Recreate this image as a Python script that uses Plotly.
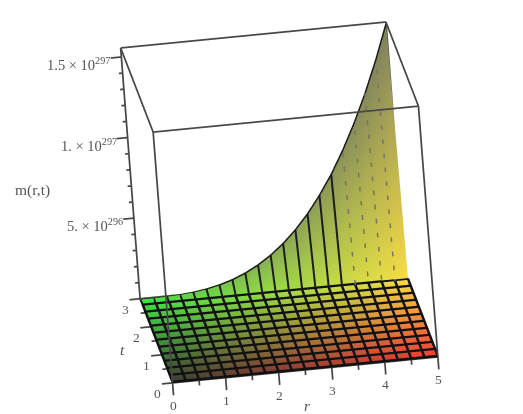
import plotly.graph_objects as go

# grid of the surface
r_vals = [0, 0.25, 0.5, 0.75, 1, 1.25, 1.5, 1.75, 2, 2.25, 2.5, 2.75, 3, 3.25, 3.5, 3.75, 4, 4.25, 4.5, 4.75, 5]
t_vals = [0, 0.25, 0.5, 0.75, 1, 1.25, 1.5, 1.75, 2, 2.25, 2.5, 2.75, 3]

# m(r,t) in units of 1e296 (webgl can't hold 1e297); flat until the last row
m_flat = [0] * 21
m_last = [0, 0.02, 0.16, 0.52, 1.24, 2.43, 4.2, 6.67, 9.96, 14.2, 19.45, 25.9, 33.6, 42.7, 53.4, 65.6, 79.7, 95.6, 113.4, 133.4, 155.6]
m_top = 155.6

r_ticks = [0, 1, 2, 3, 4, 5]
r_minor = [0.5, 1.5, 2.5, 3.5, 4.5]
t_ticks = [0, 1, 2, 3]
t_minor = [0.5, 1.5, 2.5]
m_ticks = [50, 100, 150]
m_minor = [10, 20, 30, 40, 60, 70, 80, 90, 110, 120, 130, 140]
m_labels = ['5. × 10<sup>296</sup>', '1. × 10<sup>297</sup>', '1.5 × 10<sup>297</sup>']

BOX = '#484848'
TXT = '#555555'
FONT = 'Liberation Serif'


def mix(a, b, k):
    return [a[i] + (b[i] - a[i]) * k for i in range(3)]


def base_color(r, t):
    return [60 + 190 * r / 5, 60 + 175 * t / 3, 50 + 20 * t / 3]


xs, ys, zs, cols = [], [], [], []
for j, t in enumerate(t_vals):
    for i, r in enumerate(r_vals):
        is_last = j == len(t_vals) - 1
        z = m_last[i] if is_last else m_flat[i]
        c = base_color(r, t)
        if is_last:
            c = mix(c, [125, 128, 95], (r / 5) ** 0.8)
        xs.append(r)
        ys.append(t)
        zs.append(z)
        cols.append('rgb(%d,%d,%d)' % tuple(c))

nr = len(r_vals)
ti, tj, tk = [], [], []
for j in range(len(t_vals) - 1):
    for i in range(nr - 1):
        a = j * nr + i
        ti += [a, a]
        tj += [a + 1, a + 1 + nr]
        tk += [a + 1 + nr, a + nr]

fig = go.Figure()
fig.add_trace(go.Mesh3d(x=xs, y=ys, z=zs, i=ti, j=tj, k=tk, vertexcolor=cols, hoverinfo='skip',
                        lighting=dict(ambient=1, diffuse=0, specular=0, roughness=1, fresnel=0)))


def segments(pairs, color, width, dash='solid'):
    x, y, z = [], [], []
    for p, q in pairs:
        x += [p[0], q[0], None]
        y += [p[1], q[1], None]
        z += [p[2], q[2], None]
    fig.add_trace(go.Scatter3d(x=x, y=y, z=z, mode='lines', hoverinfo='skip', showlegend=False,
                               line=dict(color=color, width=width, dash=dash)))


# mesh lines on the flat part, lifted a hair so they don't fight the mesh
lift = 0.6
grid = []
for t in t_vals[:-1]:
    grid.append(((0, t, lift), (5, t, lift)))
for r in r_vals:
    grid.append(((r, 0, lift), (r, 2.75, lift)))
segments(grid, '#111111', 5)

# ribs of the wall and its top edge, pulled slightly towards the viewer
nudge = 0.03
ribs, edge, dashed = [], [], []
for i, r in enumerate(r_vals):
    rib = ((r, 2.75 - nudge, lift), (r, 3 - nudge, m_last[i]))
    if r >= 4:
        dashed.append(rib)
    else:
        ribs.append(rib)
    if i:
        edge.append(((r_vals[i - 1], 3 - nudge, m_last[i - 1]), (r, 3 - nudge, m_last[i])))
segments(ribs, '#1c1c1c', 4)
segments(edge, '#1c1c1c', 3)
segments(dashed[:-1], '#77775f', 3, 'dash')

# box
box = []
for z in [0, m_top]:
    box += [((0, 0, z), (5, 0, z)), ((0, 3, z), (5, 3, z)), ((0, 0, z), (0, 3, z)), ((5, 0, z), (5, 3, z))]
for r in [0, 5]:
    for t in [0, 3]:
        box.append(((r, t, 0), (r, t, m_top)))
segments(box, BOX, 3.5)

# tick marks
ticks = []
ticks += [((r, 0, 0), (r, 0, -7.7)) for r in r_ticks] + [((r, 0, 0), (r, 0, -3.2)) for r in r_minor]
ticks += [((0, t, 0), (-0.2, t, 0)) for t in t_ticks] + [((0, t, 0), (-0.09, t, 0)) for t in t_minor]
ticks += [((0, 3, m), (-0.2, 3, m)) for m in m_ticks] + [((0, 3, m), (-0.07, 3, m)) for m in m_minor]
segments(ticks, BOX, 3.5)

notes = []
for r in r_ticks:
    notes.append(dict(x=r, y=0, z=-7.7, text=str(r), yshift=-10, font=dict(family=FONT, size=13.5, color=TXT)))
for t in t_ticks:
    notes.append(dict(x=-0.2, y=t, z=0, text=str(t), xshift=-4, yshift=-9, font=dict(family=FONT, size=13.5, color=TXT)))
for m, lab in zip(m_ticks, m_labels):
    notes.append(dict(x=-0.2, y=3, z=m, text=lab, xanchor='right', xshift=2, yshift=-6,
                      font=dict(family=FONT, size=14.5, color=TXT)))
for n in notes:
    n.update(showarrow=False)

camera = dict(projection=dict(type='orthographic'),
              eye=dict(x=0.0066, y=-1.9557, z=0.4696),
              up=dict(x=0.0970, y=0.2509, z=0.9632),
              center=dict(x=0.1566, y=-0.0257, z=-0.0504))
axis = dict(visible=False, showspikes=False)

# the page body adds 8px around the figure, hence the -8s
title_font = dict(family=FONT, size=15.5, color=TXT)
title_opts = dict(xref='paper', yref='paper', xanchor='center', yanchor='middle', showarrow=False, font=title_font)
fig.update_layout(
    width=523, height=414, showlegend=False, paper_bgcolor='white',
    margin=dict(l=0, r=0, t=0, b=0),
    scene=dict(domain=dict(x=[0.162, 1], y=[0.0206, 1]),
               xaxis=dict(range=[-1, 6], **axis),
               yaxis=dict(range=[-1, 4], **axis),
               zaxis=dict(range=[-30, 185.6], **axis),
               aspectmode='manual', aspectratio=dict(x=1.848, y=2.75, z=1.782),
               camera=camera, annotations=notes),
    annotations=[
        dict(x=(32 - 8) / 523, y=1 - (190 - 8) / 414, text='m(r,t)', **title_opts),
        dict(x=(307 - 8) / 523, y=1 - (405 - 8) / 414, text='<i>r</i>', **title_opts),
        dict(x=(122 - 8) / 523, y=1 - (349 - 8) / 414, text='<i>t</i>', **title_opts),
    ])

fig.write_html("out.html")
